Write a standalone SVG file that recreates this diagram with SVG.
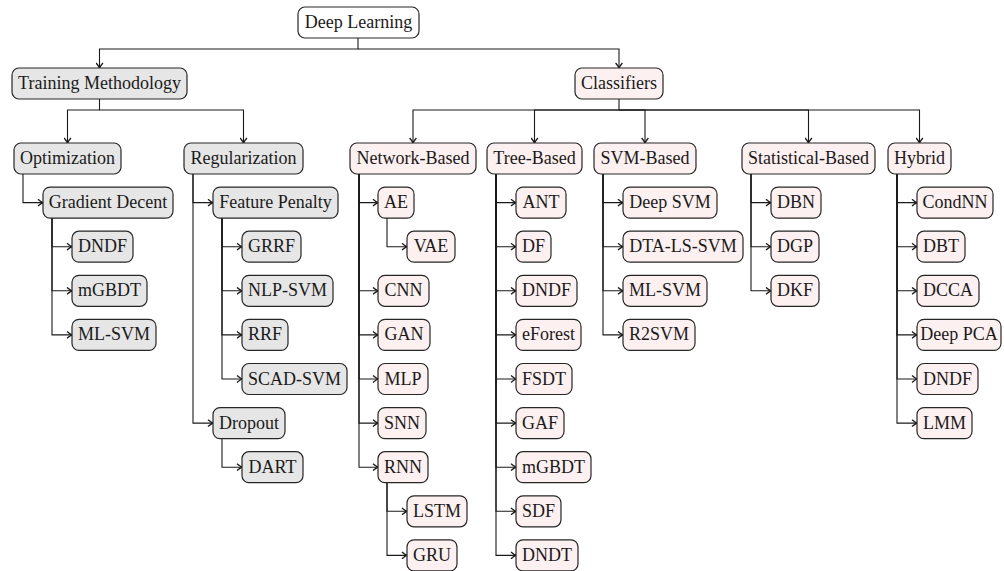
<svg xmlns="http://www.w3.org/2000/svg" width="1004" height="571" viewBox="0 0 1004 571">
<defs>
<marker id="ah" viewBox="-6 -4 7 8" refX="0" refY="0" markerWidth="7" markerHeight="8" markerUnits="userSpaceOnUse" orient="auto">
<path d="M-5,-3.4 Q-2,-0.8 0,0 Q-2,0.8 -5,3.4" fill="none" stroke="#1a1a1a" stroke-width="1.3"/>
</marker>
<style>
.b{stroke:#262626;stroke-width:1.2}
.w{fill:#ffffff}
.g{fill:#e6e6e6}
.p{fill:#fdf0f0}
.t text{font-size:18px;fill:#1a1a1a;text-anchor:middle}
.c path{fill:none;stroke:#1a1a1a;stroke-width:1.1;marker-end:url(#ah)}
</style>
</defs>
<rect width="1004" height="571" fill="#ffffff"/>
<g class="c" id="connectors">
<path d="M358,38 V49 H99.5 V68"/>
<path d="M358,49 H619 V68"/>
<path d="M99.5,99 V110 H67.5 V143"/>
<path d="M99.5,110 H243.5 V143"/>
<path d="M619,99 V110 H413 V143"/>
<path d="M619,110 H534.5 V143"/>
<path d="M619,110 H645 V143"/>
<path d="M619,110 H808.5 V143"/>
<path d="M619,110 H919.5 V143"/>
<path d="M23,174 V202.6 H43"/>
<path d="M52,218.1 V246.7 H72"/>
<path d="M52,218.1 V290.8 H72"/>
<path d="M52,218.1 V334.9 H72"/>
<path d="M193,174 V202.6 H213"/>
<path d="M193,174 V423.1 H213"/>
<path d="M222,218.1 V246.7 H242"/>
<path d="M222,218.1 V290.8 H242"/>
<path d="M222,218.1 V334.9 H242"/>
<path d="M222,218.1 V379 H242"/>
<path d="M222,438.6 V467.2 H242"/>
<path d="M359,174 V202.6 H378"/>
<path d="M359,174 V290.8 H378"/>
<path d="M359,174 V334.9 H378"/>
<path d="M359,174 V379 H378"/>
<path d="M359,174 V423.1 H378"/>
<path d="M359,174 V467.2 H378"/>
<path d="M387,218.1 V246.7 H407"/>
<path d="M387,482.7 V511.3 H407"/>
<path d="M387,482.7 V555.4 H407"/>
<path d="M496,174 V202.6 H516"/>
<path d="M496,174 V246.7 H516"/>
<path d="M496,174 V290.8 H516"/>
<path d="M496,174 V334.9 H516"/>
<path d="M496,174 V379 H516"/>
<path d="M496,174 V423.1 H516"/>
<path d="M496,174 V467.2 H516"/>
<path d="M496,174 V511.3 H516"/>
<path d="M496,174 V555.4 H516"/>
<path d="M603,174 V202.6 H623"/>
<path d="M603,174 V246.7 H623"/>
<path d="M603,174 V290.8 H623"/>
<path d="M603,174 V334.9 H623"/>
<path d="M751,174 V202.6 H771"/>
<path d="M751,174 V246.7 H771"/>
<path d="M751,174 V290.8 H771"/>
<path d="M897,174 V202.6 H917"/>
<path d="M897,174 V246.7 H917"/>
<path d="M897,174 V290.8 H917"/>
<path d="M897,174 V334.9 H917"/>
<path d="M897,174 V379 H917"/>
<path d="M897,174 V423.1 H917"/>
</g>
<g class="t" font-family="'Liberation Serif', 'Times New Roman', Tinos, 'Nimbus Roman', 'DejaVu Serif', serif">
<g id="n-root"><rect class="b w" x="298" y="7" width="121" height="31" rx="7"/><text x="358.5" y="28">Deep Learning</text></g>
<g id="n-training"><rect class="b g" x="12" y="68" width="175" height="31" rx="7"/><text x="99.5" y="89">Training Methodology</text></g>
<g id="n-classifiers"><rect class="b p" x="575" y="68" width="88" height="31" rx="7"/><text x="619" y="89">Classifiers</text></g>
<g id="n-optimization"><rect class="b g" x="14" y="143" width="107" height="31" rx="7"/><text x="67.5" y="164">Optimization</text></g>
<g id="n-regularization"><rect class="b g" x="184" y="143" width="119" height="31" rx="7"/><text x="243.5" y="164">Regularization</text></g>
<g id="n-network"><rect class="b p" x="350" y="143" width="126" height="31" rx="7"/><text x="413" y="164">Network-Based</text></g>
<g id="n-tree"><rect class="b p" x="487" y="143" width="95" height="31" rx="7"/><text x="534.5" y="164">Tree-Based</text></g>
<g id="n-svm"><rect class="b p" x="594" y="143" width="102" height="31" rx="7"/><text x="645" y="164">SVM-Based</text></g>
<g id="n-stat"><rect class="b p" x="742" y="143" width="133" height="31" rx="7"/><text x="808.5" y="164">Statistical-Based</text></g>
<g id="n-hybrid"><rect class="b p" x="888" y="143" width="63" height="31" rx="7"/><text x="919.5" y="164">Hybrid</text></g>
<g id="n-gradient"><rect class="b g" x="43" y="187.1" width="130" height="31" rx="7"/><text x="108" y="208.1">Gradient Decent</text></g>
<g id="n-t-dndf"><rect class="b g" x="72" y="231.2" width="61" height="31" rx="7"/><text x="102.5" y="252.2">DNDF</text></g>
<g id="n-t-mgbdt"><rect class="b g" x="72" y="275.3" width="75" height="31" rx="7"/><text x="109.5" y="296.3">mGBDT</text></g>
<g id="n-t-mlsvm"><rect class="b g" x="72" y="319.4" width="84" height="31" rx="7"/><text x="114" y="340.4">ML-SVM</text></g>
<g id="n-feature"><rect class="b g" x="213" y="187.1" width="125" height="31" rx="7"/><text x="275.5" y="208.1">Feature Penalty</text></g>
<g id="n-grrf"><rect class="b g" x="242" y="231.2" width="59" height="31" rx="7"/><text x="271.5" y="252.2">GRRF</text></g>
<g id="n-nlpsvm"><rect class="b g" x="242" y="275.3" width="91" height="31" rx="7"/><text x="287.5" y="296.3">NLP-SVM</text></g>
<g id="n-rrf"><rect class="b g" x="242" y="319.4" width="46" height="31" rx="7"/><text x="265" y="340.4">RRF</text></g>
<g id="n-scadsvm"><rect class="b g" x="242" y="363.5" width="105" height="31" rx="7"/><text x="294.5" y="384.5">SCAD-SVM</text></g>
<g id="n-dropout"><rect class="b g" x="213" y="407.6" width="72" height="31" rx="7"/><text x="249" y="428.6">Dropout</text></g>
<g id="n-dart"><rect class="b g" x="242" y="451.7" width="61" height="31" rx="7"/><text x="272.5" y="472.7">DART</text></g>
<g id="n-ae"><rect class="b p" x="378" y="187.1" width="36" height="31" rx="7"/><text x="396" y="208.1">AE</text></g>
<g id="n-vae"><rect class="b p" x="407" y="231.2" width="48" height="31" rx="7"/><text x="431" y="252.2">VAE</text></g>
<g id="n-cnn"><rect class="b p" x="378" y="275.3" width="51" height="31" rx="7"/><text x="403.5" y="296.3">CNN</text></g>
<g id="n-gan"><rect class="b p" x="378" y="319.4" width="52" height="31" rx="7"/><text x="404" y="340.4">GAN</text></g>
<g id="n-mlp"><rect class="b p" x="378" y="363.5" width="50" height="31" rx="7"/><text x="403" y="384.5">MLP</text></g>
<g id="n-snn"><rect class="b p" x="378" y="407.6" width="48" height="31" rx="7"/><text x="402" y="428.6">SNN</text></g>
<g id="n-rnn"><rect class="b p" x="378" y="451.7" width="50" height="31" rx="7"/><text x="403" y="472.7">RNN</text></g>
<g id="n-lstm"><rect class="b p" x="407" y="495.8" width="60" height="31" rx="7"/><text x="437" y="516.8">LSTM</text></g>
<g id="n-gru"><rect class="b p" x="407" y="539.9" width="50" height="31" rx="7"/><text x="432" y="560.9">GRU</text></g>
<g id="n-ant"><rect class="b p" x="516" y="187.1" width="50" height="31" rx="7"/><text x="541" y="208.1">ANT</text></g>
<g id="n-df"><rect class="b p" x="516" y="231.2" width="35" height="31" rx="7"/><text x="533.5" y="252.2">DF</text></g>
<g id="n-c-dndf"><rect class="b p" x="516" y="275.3" width="61" height="31" rx="7"/><text x="546.5" y="296.3">DNDF</text></g>
<g id="n-eforest"><rect class="b p" x="516" y="319.4" width="65" height="31" rx="7"/><text x="548.5" y="340.4">eForest</text></g>
<g id="n-fsdt"><rect class="b p" x="516" y="363.5" width="56" height="31" rx="7"/><text x="544" y="384.5">FSDT</text></g>
<g id="n-gaf"><rect class="b p" x="516" y="407.6" width="48" height="31" rx="7"/><text x="540" y="428.6">GAF</text></g>
<g id="n-c-mgbdt"><rect class="b p" x="516" y="451.7" width="75" height="31" rx="7"/><text x="553.5" y="472.7">mGBDT</text></g>
<g id="n-sdf"><rect class="b p" x="516" y="495.8" width="45" height="31" rx="7"/><text x="538.5" y="516.8">SDF</text></g>
<g id="n-dndt"><rect class="b p" x="516" y="539.9" width="62" height="31" rx="7"/><text x="547" y="560.9">DNDT</text></g>
<g id="n-deepsvm"><rect class="b p" x="623" y="187.1" width="94" height="31" rx="7"/><text x="670" y="208.1">Deep SVM</text></g>
<g id="n-dtalssvm"><rect class="b p" x="623" y="231.2" width="120" height="31" rx="7"/><text x="683" y="252.2">DTA-LS-SVM</text></g>
<g id="n-c-mlsvm"><rect class="b p" x="623" y="275.3" width="84" height="31" rx="7"/><text x="665" y="296.3">ML-SVM</text></g>
<g id="n-r2svm"><rect class="b p" x="623" y="319.4" width="72" height="31" rx="7"/><text x="659" y="340.4">R2SVM</text></g>
<g id="n-dbn"><rect class="b p" x="771" y="187.1" width="50" height="31" rx="7"/><text x="796" y="208.1">DBN</text></g>
<g id="n-dgp"><rect class="b p" x="771" y="231.2" width="48" height="31" rx="7"/><text x="795" y="252.2">DGP</text></g>
<g id="n-dkf"><rect class="b p" x="771" y="275.3" width="48" height="31" rx="7"/><text x="795" y="296.3">DKF</text></g>
<g id="n-condnn"><rect class="b p" x="917" y="187.1" width="76" height="31" rx="7"/><text x="955" y="208.1">CondNN</text></g>
<g id="n-dbt"><rect class="b p" x="917" y="231.2" width="48" height="31" rx="7"/><text x="941" y="252.2">DBT</text></g>
<g id="n-dcca"><rect class="b p" x="917" y="275.3" width="62" height="31" rx="7"/><text x="948" y="296.3">DCCA</text></g>
<g id="n-deeppca"><rect class="b p" x="917" y="319.4" width="84" height="31" rx="7"/><text x="959" y="340.4">Deep PCA</text></g>
<g id="n-h-dndf"><rect class="b p" x="917" y="363.5" width="61" height="31" rx="7"/><text x="947.5" y="384.5">DNDF</text></g>
<g id="n-lmm"><rect class="b p" x="917" y="407.6" width="55" height="31" rx="7"/><text x="944.5" y="428.6">LMM</text></g>
</g>
</svg>
